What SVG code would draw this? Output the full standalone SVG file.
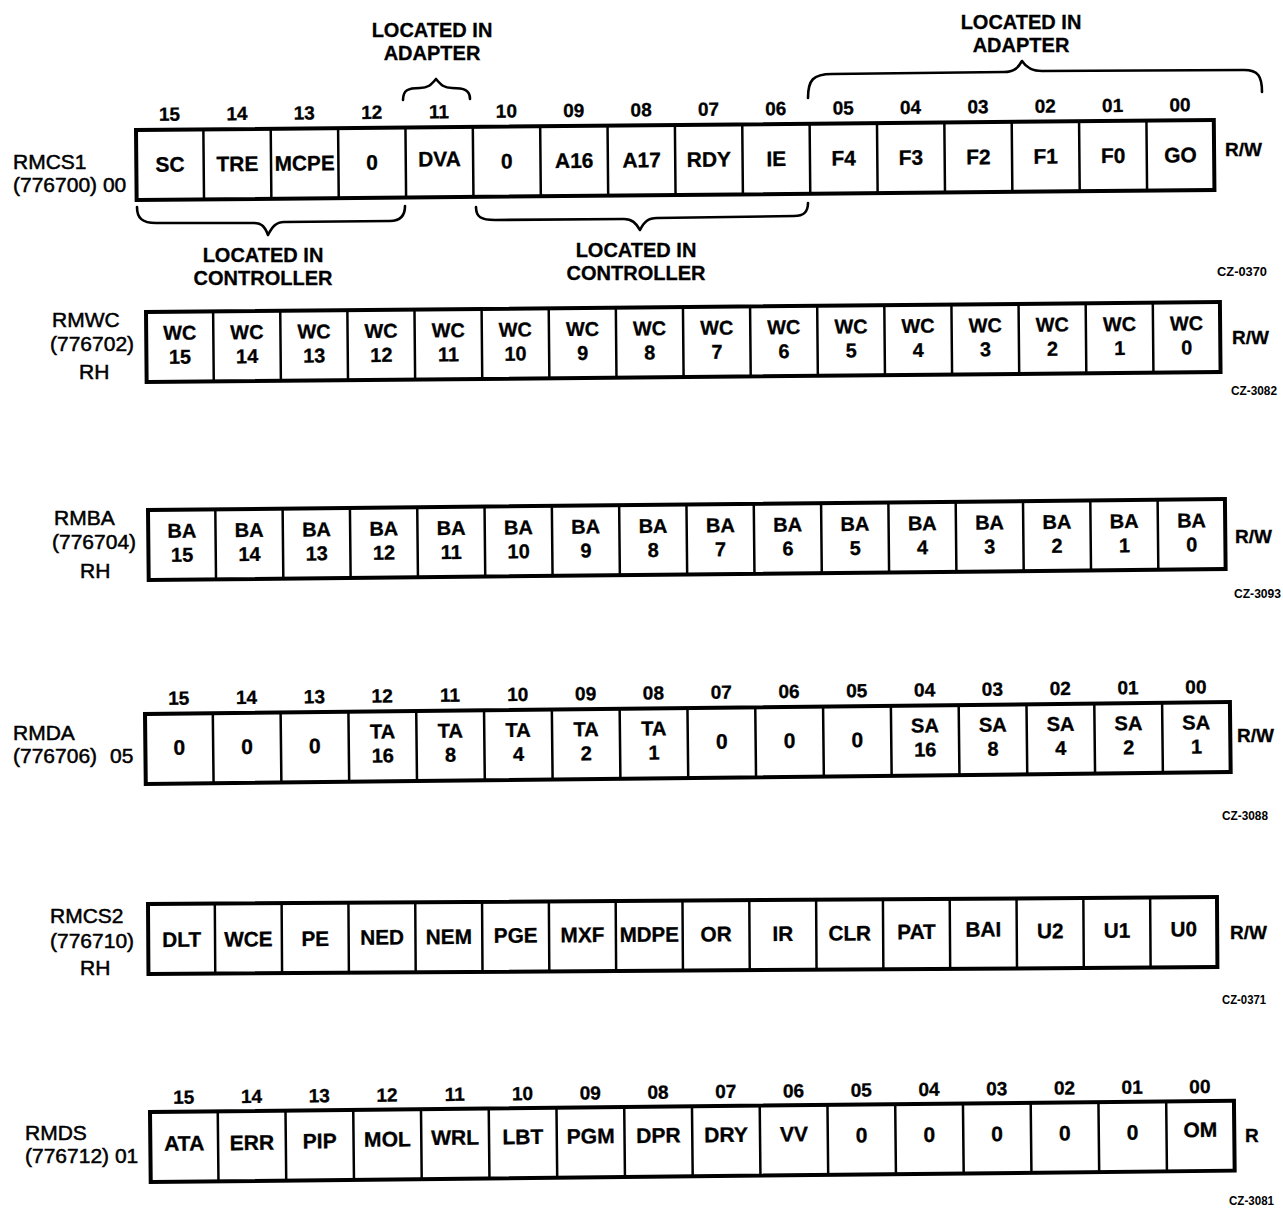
<svg xmlns="http://www.w3.org/2000/svg" xmlns:xlink="http://www.w3.org/1999/xlink" width="1283" height="1208" viewBox="0 0 1283 1208">
<style>
text{font-family:'Liberation Sans',Arial,Helvetica,sans-serif;fill:#000}
.c{font-size:21px;font-weight:bold;text-anchor:middle;stroke:#000;stroke-width:0.3}
.c2{font-size:20px;font-weight:bold;text-anchor:middle;stroke:#000;stroke-width:0.3}
.n{font-size:19px;font-weight:bold;text-anchor:middle;stroke:#000;stroke-width:0.3}
.lb{font-size:21px;font-weight:normal;stroke:#000;stroke-width:0.5}
.rw{font-size:19px;font-weight:bold;stroke:#000;stroke-width:0.3}
.cz{font-size:12px;font-weight:bold}
.loc{font-size:20px;font-weight:bold;text-anchor:middle;stroke:#000;stroke-width:0.3}
.box{fill:#fff;stroke:#000;stroke-width:4}
.div{fill:none;stroke:#000;stroke-width:2.5}
.brace{fill:none;stroke:#000;stroke-width:2.6;stroke-linecap:round;stroke-linejoin:round}
</style>
<defs>
<g id="reg">
<rect class="box" x="0" y="0" width="1080" height="70"/>
<path class="div" d="M67.5 0V70M135 0V70M202.5 0V70M270 0V70M337.5 0V70M405 0V70M472.5 0V70M540 0V70M607.5 0V70M675 0V70M742.5 0V70M810 0V70M877.5 0V70M945 0V70M1012.5 0V70"/>
</g>
</defs>
<rect width="1283" height="1208" fill="#fff"/>

<!-- RMCS1 -->
<g id="rmcs1">
<text class="lb" x="13" y="169">RMCS1</text>
<text class="lb" x="13" y="192">(776700) 00</text>
<g transform="translate(136,130) rotate(-0.53) scale(0.998,1)">
<use xlink:href="#reg"/>
<text class="n" x="33.75" y="-9">15</text><text class="n" x="101.25" y="-9">14</text><text class="n" x="168.75" y="-9">13</text><text class="n" x="236.25" y="-9">12</text><text class="n" x="303.75" y="-9">11</text><text class="n" x="371.25" y="-9">10</text><text class="n" x="438.75" y="-9">09</text><text class="n" x="506.25" y="-9">08</text><text class="n" x="573.75" y="-9">07</text><text class="n" x="641.25" y="-9">06</text><text class="n" x="708.75" y="-9">05</text><text class="n" x="776.25" y="-9">04</text><text class="n" x="843.75" y="-9">03</text><text class="n" x="911.25" y="-9">02</text><text class="n" x="978.75" y="-9">01</text><text class="n" x="1046.25" y="-9">00</text>
<text class="c" x="33.75" y="42">SC</text><text class="c" x="101.25" y="42">TRE</text><text class="c" x="168.75" y="42" textLength="60" lengthAdjust="spacingAndGlyphs">MCPE</text><text class="c" x="236.25" y="42">0</text><text class="c" x="303.75" y="39">DVA</text><text class="c" x="371.25" y="42">0</text><text class="c" x="438.75" y="42">A16</text><text class="c" x="506.25" y="42">A17</text><text class="c" x="573.75" y="42">RDY</text><text class="c" x="641.25" y="42">IE</text><text class="c" x="708.75" y="42">F4</text><text class="c" x="776.25" y="42">F3</text><text class="c" x="843.75" y="42">F2</text><text class="c" x="911.25" y="42">F1</text><text class="c" x="978.75" y="42">F0</text><text class="c" x="1046.25" y="42">GO</text>
</g>
<text class="rw" x="1225" y="156">R/W</text>
<text class="cz" x="1217" y="276" textLength="50" lengthAdjust="spacingAndGlyphs">CZ-0370</text>
<text class="loc" x="432" y="37">LOCATED IN</text>
<text class="loc" x="432" y="60">ADAPTER</text>
<text class="loc" x="1021" y="29">LOCATED IN</text>
<text class="loc" x="1021" y="52">ADAPTER</text>
<text class="loc" x="263" y="262">LOCATED IN</text>
<text class="loc" x="263" y="285">CONTROLLER</text>
<text class="loc" x="636" y="257">LOCATED IN</text>
<text class="loc" x="636" y="280">CONTROLLER</text>
</g>

<!-- RMWC -->
<g id="rmwc">
<text class="lb" x="52" y="327">RMWC</text>
<text class="lb" x="50" y="351">(776702)</text>
<text class="lb" x="79" y="379">RH</text>
<g transform="translate(146,312) rotate(-0.53) scale(0.9944,1)">
<use xlink:href="#reg"/>
<text class="c2" x="33.75" y="28">WC</text><text class="c2" x="101.25" y="28">WC</text><text class="c2" x="168.75" y="28">WC</text><text class="c2" x="236.25" y="28">WC</text><text class="c2" x="303.75" y="28">WC</text><text class="c2" x="371.25" y="28">WC</text><text class="c2" x="438.75" y="28">WC</text><text class="c2" x="506.25" y="28">WC</text><text class="c2" x="573.75" y="28">WC</text><text class="c2" x="641.25" y="28">WC</text><text class="c2" x="708.75" y="28">WC</text><text class="c2" x="776.25" y="28">WC</text><text class="c2" x="843.75" y="28">WC</text><text class="c2" x="911.25" y="28">WC</text><text class="c2" x="978.75" y="28">WC</text><text class="c2" x="1046.25" y="28">WC</text>
<text class="c2" x="33.75" y="52">15</text><text class="c2" x="101.25" y="52">14</text><text class="c2" x="168.75" y="52">13</text><text class="c2" x="236.25" y="52">12</text><text class="c2" x="303.75" y="52">11</text><text class="c2" x="371.25" y="52">10</text><text class="c2" x="438.75" y="52">9</text><text class="c2" x="506.25" y="52">8</text><text class="c2" x="573.75" y="52">7</text><text class="c2" x="641.25" y="52">6</text><text class="c2" x="708.75" y="52">5</text><text class="c2" x="776.25" y="52">4</text><text class="c2" x="843.75" y="52">3</text><text class="c2" x="911.25" y="52">2</text><text class="c2" x="978.75" y="52">1</text><text class="c2" x="1046.25" y="52">0</text>
</g>
<text class="rw" x="1232" y="344">R/W</text>
<text class="cz" x="1231" y="395" textLength="46" lengthAdjust="spacingAndGlyphs">CZ-3082</text>
</g>

<!-- RMBA -->
<g id="rmba">
<text class="lb" x="54" y="525">RMBA</text>
<text class="lb" x="52" y="549">(776704)</text>
<text class="lb" x="80" y="578">RH</text>
<g transform="translate(148,510) rotate(-0.58) scale(0.9972,1)">
<use xlink:href="#reg"/>
<text class="c2" x="33.75" y="28">BA</text><text class="c2" x="101.25" y="28">BA</text><text class="c2" x="168.75" y="28">BA</text><text class="c2" x="236.25" y="28">BA</text><text class="c2" x="303.75" y="28">BA</text><text class="c2" x="371.25" y="28">BA</text><text class="c2" x="438.75" y="28">BA</text><text class="c2" x="506.25" y="28">BA</text><text class="c2" x="573.75" y="28">BA</text><text class="c2" x="641.25" y="28">BA</text><text class="c2" x="708.75" y="28">BA</text><text class="c2" x="776.25" y="28">BA</text><text class="c2" x="843.75" y="28">BA</text><text class="c2" x="911.25" y="28">BA</text><text class="c2" x="978.75" y="28">BA</text><text class="c2" x="1046.25" y="28">BA</text>
<text class="c2" x="33.75" y="52">15</text><text class="c2" x="101.25" y="52">14</text><text class="c2" x="168.75" y="52">13</text><text class="c2" x="236.25" y="52">12</text><text class="c2" x="303.75" y="52">11</text><text class="c2" x="371.25" y="52">10</text><text class="c2" x="438.75" y="52">9</text><text class="c2" x="506.25" y="52">8</text><text class="c2" x="573.75" y="52">7</text><text class="c2" x="641.25" y="52">6</text><text class="c2" x="708.75" y="52">5</text><text class="c2" x="776.25" y="52">4</text><text class="c2" x="843.75" y="52">3</text><text class="c2" x="911.25" y="52">2</text><text class="c2" x="978.75" y="52">1</text><text class="c2" x="1046.25" y="52">0</text>
</g>
<text class="rw" x="1235" y="543">R/W</text>
<text class="cz" x="1234" y="598" textLength="47" lengthAdjust="spacingAndGlyphs">CZ-3093</text>
</g>

<!-- RMDA -->
<g id="rmda">
<text class="lb" x="13" y="740">RMDA</text>
<text class="lb" x="13" y="763">(776706)</text>
<text class="lb" x="110" y="763">05</text>
<g transform="translate(145,714) rotate(-0.63) scale(1.0046,1)">
<use xlink:href="#reg"/>
<text class="n" x="33.75" y="-9">15</text><text class="n" x="101.25" y="-9">14</text><text class="n" x="168.75" y="-9">13</text><text class="n" x="236.25" y="-9">12</text><text class="n" x="303.75" y="-9">11</text><text class="n" x="371.25" y="-9">10</text><text class="n" x="438.75" y="-9">09</text><text class="n" x="506.25" y="-9">08</text><text class="n" x="573.75" y="-9">07</text><text class="n" x="641.25" y="-9">06</text><text class="n" x="708.75" y="-9">05</text><text class="n" x="776.25" y="-9">04</text><text class="n" x="843.75" y="-9">03</text><text class="n" x="911.25" y="-9">02</text><text class="n" x="978.75" y="-9">01</text><text class="n" x="1046.25" y="-9">00</text>
<text class="c" x="33.75" y="41">0</text><text class="c" x="101.25" y="41">0</text><text class="c" x="168.75" y="41">0</text>
<text class="c2" x="236.25" y="27">TA</text><text class="c2" x="303.75" y="27">TA</text><text class="c2" x="371.25" y="27">TA</text><text class="c2" x="438.75" y="27">TA</text><text class="c2" x="506.25" y="27">TA</text>
<text class="c2" x="236.25" y="51">16</text><text class="c2" x="303.75" y="51">8</text><text class="c2" x="371.25" y="51">4</text><text class="c2" x="438.75" y="51">2</text><text class="c2" x="506.25" y="51">1</text>
<text class="c" x="573.75" y="41">0</text><text class="c" x="641.25" y="41">0</text><text class="c" x="708.75" y="41">0</text>
<text class="c2" x="776.25" y="27">SA</text><text class="c2" x="843.75" y="27">SA</text><text class="c2" x="911.25" y="27">SA</text><text class="c2" x="978.75" y="27">SA</text><text class="c2" x="1046.25" y="27">SA</text>
<text class="c2" x="776.25" y="51">16</text><text class="c2" x="843.75" y="51">8</text><text class="c2" x="911.25" y="51">4</text><text class="c2" x="978.75" y="51">2</text><text class="c2" x="1046.25" y="51">1</text>
</g>
<text class="rw" x="1237" y="742">R/W</text>
<text class="cz" x="1222" y="820" textLength="46" lengthAdjust="spacingAndGlyphs">CZ-3088</text>
</g>

<!-- RMCS2 -->
<g id="rmcs2">
<text class="lb" x="50" y="923">RMCS2</text>
<text class="lb" x="50" y="948">(776710)</text>
<text class="lb" x="80" y="975">RH</text>
<g transform="translate(148,904) rotate(-0.37) scale(0.9898,1)">
<use xlink:href="#reg"/>
<text class="c" x="33.75" y="43">DLT</text><text class="c" x="101.25" y="43">WCE</text><text class="c" x="168.75" y="43">PE</text><text class="c" x="236.25" y="42">NED</text><text class="c" x="303.75" y="42">NEM</text><text class="c" x="371.25" y="41">PGE</text><text class="c" x="438.75" y="41">MXF</text><text class="c" x="506.25" y="41" textLength="60" lengthAdjust="spacingAndGlyphs">MDPE</text><text class="c" x="573.75" y="41">OR</text><text class="c" x="641.25" y="41">IR</text><text class="c" x="708.75" y="41">CLR</text><text class="c" x="776.25" y="40">PAT</text><text class="c" x="843.75" y="38">BAI</text><text class="c" x="911.25" y="40">U2</text><text class="c" x="978.75" y="40">U1</text><text class="c" x="1046.25" y="39">U0</text>
</g>
<text class="rw" x="1230" y="939">R/W</text>
<text class="cz" x="1222" y="1004" textLength="44" lengthAdjust="spacingAndGlyphs">CZ-0371</text>
</g>

<!-- RMDS -->
<g id="rmds">
<text class="lb" x="25" y="1140">RMDS</text>
<text class="lb" x="25" y="1163">(776712) 01</text>
<g transform="translate(150,1112) rotate(-0.6) scale(1.0037,1)">
<use xlink:href="#reg"/>
<text class="n" x="33.75" y="-8">15</text><text class="n" x="101.25" y="-8">14</text><text class="n" x="168.75" y="-8">13</text><text class="n" x="236.25" y="-8">12</text><text class="n" x="303.75" y="-8">11</text><text class="n" x="371.25" y="-8">10</text><text class="n" x="438.75" y="-8">09</text><text class="n" x="506.25" y="-8">08</text><text class="n" x="573.75" y="-8">07</text><text class="n" x="641.25" y="-8">06</text><text class="n" x="708.75" y="-8">05</text><text class="n" x="776.25" y="-8">04</text><text class="n" x="843.75" y="-8">03</text><text class="n" x="911.25" y="-8">02</text><text class="n" x="978.75" y="-8">01</text><text class="n" x="1046.25" y="-8">00</text>
<text class="c" x="33.75" y="39">ATA</text><text class="c" x="101.25" y="39">ERR</text><text class="c" x="168.75" y="38">PIP</text><text class="c" x="236.25" y="37">MOL</text><text class="c" x="303.75" y="36">WRL</text><text class="c" x="371.25" y="36">LBT</text><text class="c" x="438.75" y="36">PGM</text><text class="c" x="506.25" y="36">DPR</text><text class="c" x="573.75" y="36">DRY</text><text class="c" x="641.25" y="36">VV</text><text class="c" x="708.75" y="38">0</text><text class="c" x="776.25" y="38">0</text><text class="c" x="843.75" y="38">0</text><text class="c" x="911.25" y="38">0</text><text class="c" x="978.75" y="38">0</text><text class="c" x="1046.25" y="36">OM</text>
</g>
<text class="rw" x="1245" y="1142">R</text>
<text class="cz" x="1229" y="1205" textLength="45" lengthAdjust="spacingAndGlyphs">CZ-3081</text>
</g>

<!-- braces -->
<g id="braces">
<path class="brace" d="M403,100 C403,90 408,88 420,88 C428,88 431,85 436,79 C441,85 444,88 452,88 C464,88 470,90 470,99"/>
<path class="brace" d="M808,98 C808,80 813,74 832,74 L1004,72 C1014,72 1018,68 1022,61 C1026,67 1031,71 1042,71 L1244,70 C1258,70 1262,76 1262,92"/>
<path class="brace" d="M137,207 C137,218 142,223 156,223 L254,223 C262,223 265,227 268,235 C272,227 276,222 284,222 L390,221 C400,221 405,216 405,206"/>
<path class="brace" d="M476,207 C476,217 481,220 495,220 L624,219 C632,219 636,223 640,230 C644,222 648,218 657,218 L794,216 C804,216 808,212 808,203"/>
</g>
</svg>
